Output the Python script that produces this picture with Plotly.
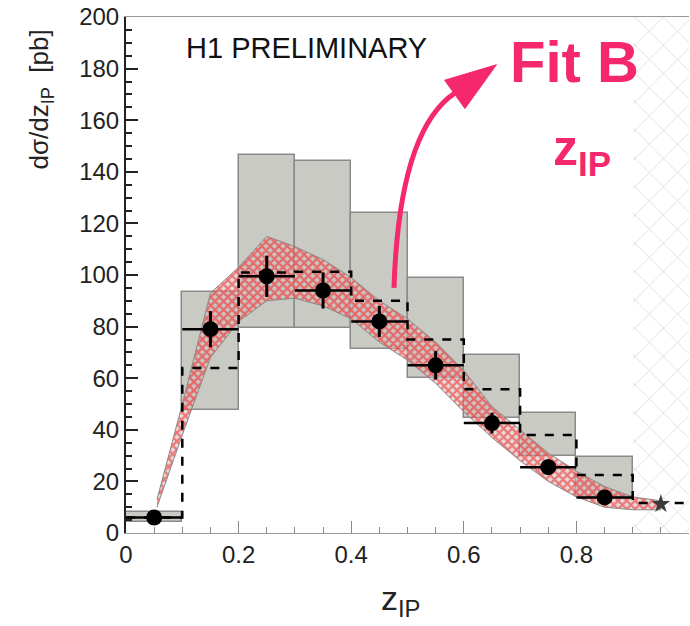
import plotly.graph_objects as go

# ---------------- data ----------------
bin_lo = [0.0, 0.1, 0.2, 0.3, 0.4, 0.5, 0.6, 0.7, 0.8]
bin_hi = [0.1, 0.2, 0.3, 0.4, 0.5, 0.6, 0.7, 0.8, 0.9]

data_y = [6, 79, 99.5, 94, 82, 65, 42.6, 25.5, 13.8]
data_err = [1.5, 7, 8, 7, 6, 5.5, 4, 3, 2]

syst_lo = [4.3, 47.7, 79.5, 79.5, 71.5, 60, 44.5, 30, 14]
syst_hi = [8.3, 93.5, 146.5, 144, 124, 98.8, 69, 46.5, 29.5]

mc_edges = [0.0, 0.1, 0.2, 0.3, 0.4, 0.5, 0.6, 0.7, 0.8, 0.9, 1.0]
mc_y = [6, 64, 101, 101.3, 90, 75, 55.7, 38, 22.5, 11.6]

excl_x = [0.95]
excl_y = [11.2]
excl_err = [1.5]
excl_lo = 0.9
excl_hi = 1.0

band_x = [0.055, 0.1, 0.15, 0.2, 0.25, 0.3, 0.35, 0.4, 0.45, 0.5, 0.55,
          0.6, 0.65, 0.7, 0.75, 0.8, 0.85, 0.9, 0.95]
band_up = [13, 50, 93, 103, 115, 111, 106, 99, 90, 83, 74,
           63, 49, 40, 31, 24, 18, 14, 12.5]
band_dn = [10, 38, 68, 82, 90, 91, 88, 83, 74, 67, 58,
           47, 37, 28, 20, 14, 10, 9, 9]

x_tickvals = [0, 0.2, 0.4, 0.6, 0.8]
x_ticktext = ["0", "0.2", "0.4", "0.6", "0.8"]
y_tickvals = [0, 20, 40, 60, 80, 100, 120, 140, 160, 180, 200]
y_ticktext = [str(v) for v in y_tickvals]

PINK = "#f5286e"
FONT = "Liberation Sans"

centers = [(a + b) / 2 for a, b in zip(bin_lo, bin_hi)]
widths = [b - a for a, b in zip(bin_lo, bin_hi)]
half = [w / 2 for w in widths]

fig = go.Figure()

# excluded region hatch
fig.add_trace(go.Bar(
    x=[(excl_lo + excl_hi) / 2], y=[200], base=[0], width=[excl_hi - excl_lo],
    marker=dict(color="white", line=dict(width=0),
                pattern=dict(shape="x", fgcolor="#bdbdbd", bgcolor="white",
                             size=20, solidity=0.09)),
    showlegend=False, hoverinfo="skip"))

# systematic boxes
fig.add_trace(go.Bar(
    x=centers, y=[h - l for h, l in zip(syst_hi, syst_lo)], base=syst_lo,
    width=widths,
    marker=dict(color="#cacac4", line=dict(color="#8a8a8a", width=1.5)),
    showlegend=False, hoverinfo="skip"))

# fit band
fig.add_trace(go.Scatter(
    x=band_x + band_x[::-1], y=band_up + band_dn[::-1],
    mode="lines", fill="toself",
    fillcolor="rgba(200,195,195,0.55)",
    fillpattern=dict(shape="x", fgcolor="#ff0d0d", bgcolor="rgba(200,195,195,0.55)",
                     size=6, solidity=0.6),
    line=dict(color="#8a8a8a", width=1),
    showlegend=False, hoverinfo="skip"))

# MC dashed histogram
fig.add_trace(go.Scatter(
    x=mc_edges, y=mc_y + [mc_y[-1]], mode="lines", line_shape="hv",
    line=dict(color="black", width=2.5, dash="dash"),
    showlegend=False, hoverinfo="skip"))

# data points
fig.add_trace(go.Scatter(
    x=centers, y=data_y, mode="markers",
    marker=dict(color="black", size=16, symbol="circle"),
    error_x=dict(type="data", array=half, color="black", thickness=2.5, width=0),
    error_y=dict(type="data", array=data_err, color="black", thickness=3, width=0),
    showlegend=False))

fig.add_trace(go.Scatter(
    x=excl_x, y=excl_y, mode="markers",
    marker=dict(color="#3a3a3a", size=14, symbol="star"),
    error_y=dict(type="data", array=excl_err, color="#333", thickness=2, width=0),
    showlegend=False))

# curved arrow (decoration)
fig.add_shape(type="path", xref="x", yref="y",
              path="M 0.476,95 Q 0.485,156 0.584,170.5",
              line=dict(color=PINK, width=5))
fig.add_shape(type="path", xref="x", yref="y",
              path="M 0.566,175.5 L 0.602,164.5 L 0.658,181.5 Z",
              fillcolor=PINK, line=dict(color=PINK, width=1))

# texts
fig.add_annotation(xref="paper", yref="paper", x=0.103, y=0.94,
                   text="H1 PRELIMINARY", showarrow=False, xanchor="left",
                   yanchor="middle", font=dict(family=FONT, size=29, color="#111"))
fig.add_annotation(xref="paper", yref="paper", x=0.796, y=0.913,
                   text="<b>Fit B</b>", showarrow=False, xanchor="center",
                   yanchor="middle", font=dict(family=FONT, size=58, color=PINK))
fig.add_annotation(xref="paper", yref="paper", x=0.81, y=0.74,
                   text="<b>z<sub>IP</sub></b>", showarrow=False, xanchor="center",
                   yanchor="middle", font=dict(family=FONT, size=50, color=PINK))
fig.add_annotation(xref="paper", yref="paper", x=-0.151, y=0.84,
                   text="dσ/dz<sub>IP</sub>  [pb]", showarrow=False, textangle=-90,
                   xanchor="center", yanchor="middle",
                   font=dict(family=FONT, size=26, color="#222"))
fig.add_annotation(xref="paper", yref="paper", x=0.488, y=-0.13,
                   text="z<sub>IP</sub>", showarrow=False, xanchor="center",
                   yanchor="middle", font=dict(family=FONT, size=34, color="#222"))

fig.update_layout(
    width=690, height=626,
    margin=dict(l=126, r=1, t=17, b=93),
    paper_bgcolor="white", plot_bgcolor="white",
    barmode="overlay", bargap=0, showlegend=False,
    font=dict(family=FONT, color="#222"),
)
fig.update_xaxes(
    range=[0, 1], showgrid=False, zeroline=False,
    showline=True, linecolor="#999", linewidth=1, mirror=True,
    tickvals=x_tickvals, ticktext=x_ticktext,
    ticks="inside", ticklen=12, tickcolor="#888", tickwidth=1,
    minor=dict(ticks="inside", ticklen=6, dtick=0.05, tick0=0, tickcolor="#888"),
    tickfont=dict(family=FONT, size=24, color="#222"))
fig.update_yaxes(
    range=[0, 200], showgrid=False, zeroline=False,
    showline=True, linecolor="#222", linewidth=2,
    tickvals=y_tickvals, ticktext=y_ticktext,
    ticks="inside", ticklen=12, tickcolor="#222", tickwidth=1.5,
    minor=dict(ticks="inside", ticklen=6, dtick=5, tick0=0, tickcolor="#222"),
    tickfont=dict(family=FONT, size=24, color="#222"))

fig.write_html("out.html")
